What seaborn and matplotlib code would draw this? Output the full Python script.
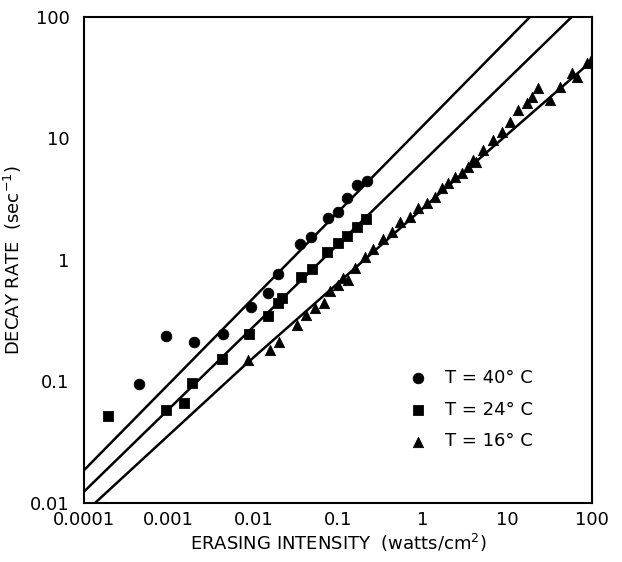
import pandas as pd
import matplotlib
matplotlib.use("Agg")
import matplotlib.pyplot as plt
import seaborn as sns

x_40 = [0.00045, 0.00093, 0.002, 0.0044, 0.0093, 0.015, 0.0195, 0.036, 0.048,
        0.076, 0.1, 0.127, 0.166, 0.22]
y_40 = [0.096, 0.235, 0.21, 0.246, 0.41, 0.53, 0.77, 1.35, 1.55, 2.22, 2.48,
        3.24, 4.14, 4.47]

x_24 = [0.00019, 0.00093, 0.0015, 0.0019, 0.0043, 0.0089, 0.0148, 0.0195, 0.022,
        0.037, 0.049, 0.074, 0.1, 0.127, 0.166, 0.214]
y_24 = [0.052, 0.058, 0.0665, 0.098, 0.153, 0.246, 0.346, 0.44, 0.49, 0.72,
        0.84, 1.16, 1.38, 1.57, 1.86, 2.17]

x_16 = [0.0087, 0.0158, 0.02, 0.033, 0.042, 0.054, 0.068, 0.08, 0.1, 0.115, 0.13,
        0.158, 0.21, 0.26, 0.34, 0.43, 0.54, 0.71, 0.88, 1.12, 1.39, 1.69, 2.0,
        2.4, 2.9, 3.4, 3.9, 4.2, 5.1, 6.7, 8.6, 10.7, 13.3, 17, 19.5, 23, 31.8,
        41.5, 57.6, 67, 87, 100]
y_16 = [0.15, 0.18, 0.21, 0.29, 0.35, 0.40, 0.44, 0.55, 0.62, 0.71, 0.68, 0.86,
        1.06, 1.23, 1.49, 1.70, 2.05, 2.26, 2.68, 2.95, 3.3, 3.92, 4.3, 4.8, 5.2,
        5.8, 6.65, 6.4, 8.0, 9.7, 11.3, 13.7, 17.2, 19.5, 21.9, 26, 20.7, 26.5,
        34.7, 32, 42, 46]

# Fitted lines (endpoints / knots)
fit_x_40 = [1e-4, 18.5]
fit_y_40 = [0.0186, 100]
fit_x_24 = [1e-4, 57.5]
fit_y_24 = [0.0124, 100]
fit_x_16 = [1.35e-4, 0.008, 2.99, 100]
fit_y_16 = [0.01, 0.137, 5.2, 43.6]

labels = ["T = 40° C", "T = 24° C", "T = 16° C"]
tick_vals_x = [1e-4, 1e-3, 1e-2, 1e-1, 1, 10, 100]
tick_text_x = ["0.0001", "0.001", "0.01", "0.1", "1", "10", "100"]
tick_vals_y = [0.01, 0.1, 1, 10, 100]
tick_text_y = ["0.01", "0.1", "1", "10", "100"]

sns.set_style("white")
plt.rcParams["font.family"] = ["DejaVu Sans"]
plt.rcParams["text.color"] = "black"
plt.rcParams["axes.labelcolor"] = "black"
plt.rcParams["xtick.color"] = "black"
plt.rcParams["ytick.color"] = "black"

fig = plt.figure(figsize=(6.22, 5.62), dpi=100)
ax = fig.add_axes([0.135, 0.105, 0.817, 0.865])

for fx, fy in [(fit_x_40, fit_y_40), (fit_x_24, fit_y_24), (fit_x_16, fit_y_16)]:
    sns.lineplot(x=fx, y=fy, color="black", linewidth=1.8, sort=False,
                 estimator=None, ax=ax)

sns.scatterplot(x=x_40, y=y_40, marker="o", s=58, color="black",
                edgecolor="black", label=labels[0], ax=ax, zorder=3)
sns.scatterplot(x=x_24, y=y_24, marker="s", s=50, color="black",
                edgecolor="black", label=labels[1], ax=ax, zorder=3)
sns.scatterplot(x=x_16, y=y_16, marker="^", s=55, color="black",
                edgecolor="black", label=labels[2], ax=ax, zorder=3)

ax.set_xscale("log")
ax.set_yscale("log")
ax.set_xlim(1e-4, 100)
ax.set_ylim(0.01, 100)
ax.set_xticks(tick_vals_x)
ax.set_xticklabels(tick_text_x)
ax.set_yticks(tick_vals_y)
ax.set_yticklabels(tick_text_y)
ax.minorticks_off()
ax.tick_params(axis="x", direction="in", length=9, width=1.3, labelsize=13, pad=6)
ax.tick_params(axis="y", direction="out", length=7, width=1.3, labelsize=13)
for sp in ax.spines.values():
    sp.set_color("black")
    sp.set_linewidth(1.5)

ax.set_xlabel("ERASING INTENSITY  (watts/cm$^2$)", fontsize=13, labelpad=2)
ax.set_ylabel("DECAY RATE  (sec$^{-1}$)", fontsize=13, labelpad=4)

ax.legend(loc="lower left", bbox_to_anchor=(0.59, 0.075), frameon=False,
          fontsize=13, handletextpad=0.5, labelspacing=0.75, markerscale=1.0)

fig.savefig("out.png", dpi=100)
